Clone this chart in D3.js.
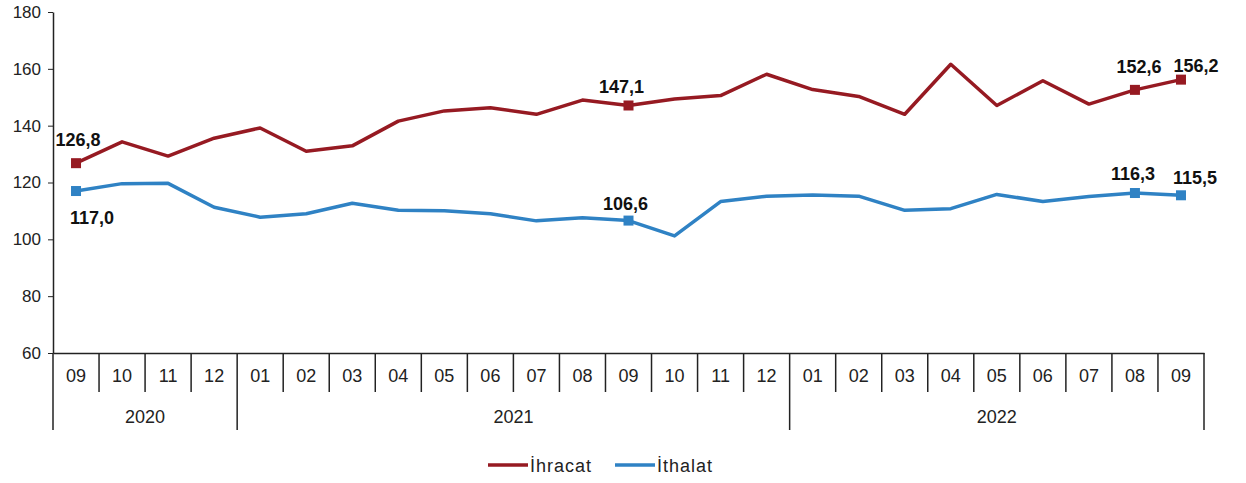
<!DOCTYPE html>
<meta charset="utf-8">
<title>İhracat ve İthalat</title>
<script src="https://cdnjs.cloudflare.com/ajax/libs/d3/7.8.5/d3.min.js"></script>
<style>
body { margin:0; background:#fff; }
svg { display:block; font-family:"Liberation Sans", Arial, sans-serif; }
.axis path, .axis line { stroke:#222; }
.axis text { fill:#222; }
.lbl { font-weight:bold; font-size:18px; fill:#111; }
</style>
<svg width="1246" height="483"></svg>
<script>

var months = ["09","10","11","12","01","02","03","04","05","06","07","08","09","10","11","12","01","02","03","04","05","06","07","08","09"];
var years = [["2020", 4], ["2021", 12], ["2022", 9]];
var ihracat = [126.8,134.3,129.3,135.6,139.2,131.0,132.9,141.6,145.2,146.3,144.0,149.0,147.1,149.4,150.6,158.1,152.7,150.3,144.0,161.6,147.1,155.8,147.6,152.6,156.2];
var ithalat = [117.0,119.6,119.7,111.3,107.8,109.0,112.7,110.2,110.1,109.0,106.5,107.6,106.6,101.2,113.3,115.2,115.6,115.2,110.2,110.8,115.8,113.3,115.1,116.3,115.5];
var yTicks = [60,80,100,120,140,160,180];
var labelIdx = [0, 12, 23, 24];

var svg = d3.select("svg"),
    mLeft = 53, mRight = 1204, mTop = 12, mBottom = 353;

var x = d3.scaleBand().domain(d3.range(months.length)).range([mLeft, mRight]);
var y = d3.scaleLinear().domain([60, 180]).range([mBottom, mTop]);
var cx = function(i) { return x(i) + x.bandwidth() / 2; };
var fmt = function(v) { return v.toFixed(1).replace(".", ","); };

// y axis
var ya = svg.append("g")
    .attr("class", "axis")
    .attr("transform", "translate(" + mLeft + ",0)")
    .call(d3.axisLeft(y).tickValues(yTicks).tickSize(5).tickSizeOuter(0));
ya.selectAll("text").style("font-size", "17px").attr("x", -12);
ya.select(".domain").attr("stroke-width", 1.5);

// x axis (months)
var xa = svg.append("g")
    .attr("class", "axis")
    .attr("transform", "translate(0," + mBottom + ")")
    .call(d3.axisBottom(x).tickSize(0).tickSizeOuter(0).tickFormat(function(i) { return months[i]; }));
xa.selectAll("text").style("font-size", "18px").attr("y", 16);
xa.select(".domain").attr("stroke-width", 1.5);

// separators
var bounds = d3.range(months.length + 1);
var yearStarts = [0];
years.forEach(function(d, k) { yearStarts.push(yearStarts[k] + d[1]); });
var bx = function(i) { return i < months.length ? x(i) : x(i - 1) + x.bandwidth(); };
svg.append("g").selectAll("line")
  .data(bounds)
  .join("line")
    .attr("x1", bx)
    .attr("x2", bx)
    .attr("y1", mBottom)
    .attr("y2", function(i) { return yearStarts.indexOf(i) >= 0 ? 430 : 392; })
    .attr("stroke", "#222")
    .attr("stroke-width", 1.5);

// year labels
svg.append("g").selectAll("text")
  .data(years)
  .join("text")
    .attr("x", function(d, k) { return (bx(yearStarts[k]) + bx(yearStarts[k + 1])) / 2; })
    .attr("y", 423)
    .attr("text-anchor", "middle")
    .style("font-size", "18px")
    .attr("fill", "#222")
    .text(function(d) { return d[0]; });

var series = [
  { name: "İhracat", values: ihracat, color: "#961a22" },
  { name: "İthalat", values: ithalat, color: "#2f82c4" }
];

var line = d3.line().x(function(d, i) { return cx(i); }).y(function(d) { return y(d); });

series.forEach(function(s) {
  svg.append("path")
      .datum(s.values)
      .attr("fill", "none")
      .attr("stroke", s.color)
      .attr("stroke-width", 3.5)
      .attr("stroke-linejoin", "round")
      .attr("d", line);

  svg.append("g").selectAll("rect")
    .data(labelIdx)
    .join("rect")
      .attr("x", function(i) { return cx(i) - 5; })
      .attr("y", function(i) { return y(s.values[i]) - 5; })
      .attr("width", 10)
      .attr("height", 10)
      .attr("fill", s.color);
});

// data labels
var redOff = { 0: [2, -17], 12: [-7, -12], 23: [4, -17], 24: [15, -8] };
var blueOff = { 0: [16, 33], 12: [-3, -11], 23: [-2, -13], 24: [14, -11] };
svg.append("g").selectAll("text")
  .data(labelIdx)
  .join("text")
    .attr("class", "lbl")
    .attr("text-anchor", "middle")
    .attr("x", function(i) { return cx(i) + redOff[i][0]; })
    .attr("y", function(i) { return y(ihracat[i]) + redOff[i][1]; })
    .text(function(i) { return fmt(ihracat[i]); });
svg.append("g").selectAll("text")
  .data(labelIdx)
  .join("text")
    .attr("class", "lbl")
    .attr("text-anchor", "middle")
    .attr("x", function(i) { return cx(i) + blueOff[i][0]; })
    .attr("y", function(i) { return y(ithalat[i]) + blueOff[i][1]; })
    .text(function(i) { return fmt(ithalat[i]); });

// legend
var lg = svg.append("g").attr("transform", "translate(488,465)");
series.forEach(function(s, k) {
  var g = lg.append("g").attr("transform", "translate(" + (k * 127) + ",0)");
  g.append("line").attr("x1", 0).attr("x2", 40).attr("y1", 0).attr("y2", 0)
      .attr("stroke", s.color).attr("stroke-width", 3.5);
  g.append("text").attr("x", 42).attr("y", 7)
      .style("font-size", "18px").style("letter-spacing", "1px")
      .attr("fill", "#222").text(s.name);
});

</script>
</html>
